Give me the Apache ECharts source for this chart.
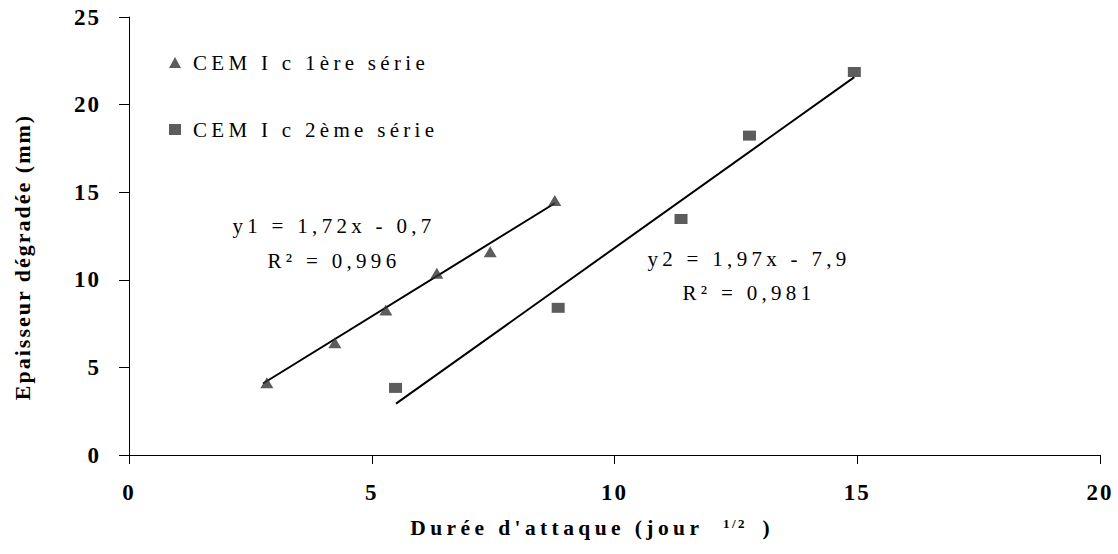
<!DOCTYPE html>
<html>
<head>
<meta charset="utf-8">
<script src="https://cdn.jsdelivr.net/npm/echarts@6/dist/echarts.min.js"></script>
<style>
html, body { margin: 0; padding: 0; background: #fff; }
#chart { width: 1118px; height: 554px; }
/* the original text is letter-spaced, svg text takes css letter-spacing */
#chart text[style*="23px"] { letter-spacing: 2px; }
#chart text[style*="22px"] { letter-spacing: 2px; }
#chart text[style*="21.5px"] { letter-spacing: 4.4px; }
#chart text[style*="21px"] { letter-spacing: 4.3px; }
#chart text[style*="13px"] { letter-spacing: 2.5px; }
</style>
</head>
<body>
<div id="chart"></div>
<script>
const serif = "Liberation Serif";

const serie1Name = "CEM I c 1ère série";
const serie1X = [2.84, 4.24, 5.29, 6.34, 7.44, 8.77];
const serie1Y = [4.13, 6.40, 8.27, 10.37, 11.60, 14.52];

const serie2Name = "CEM I c 2ème série";
const serie2X = [5.49, 8.84, 11.37, 12.78, 14.94];
const serie2Y = [3.83, 8.40, 13.47, 18.23, 21.86];

// trend line ends
const trend1X = [2.76, 8.77];
const trend1Y = [4.08, 14.37];
const trend2X = [5.50, 14.94];
const trend2Y = [2.93, 21.57];

const equation1 = "y1 = 1,72x - 0,7\nR² = 0,996";
const equation2 = "y2 = 1,97x - 7,9\nR² = 0,981";

const xTicks = [0, 5, 10, 15, 20];
const yTicks = [0, 5, 10, 15, 20, 25];

const pairs = (xs, ys) => xs.map((x, i) => [x, ys[i]]);

var chart = echarts.init(document.getElementById("chart"), null, { renderer: "svg" });

chart.setOption({
    animation: false,
    backgroundColor: "#ffffff",
    grid: {
        left: 129,
        right: 18,
        top: 17,
        bottom: 99
    },
    legend: {
        data: [serie1Name, serie2Name],
        orient: "vertical",
        left: 164,
        top: 47,
        itemWidth: 12,
        itemHeight: 11,
        itemGap: 46,
        textStyle: {
            fontFamily: serif,
            fontSize: 21,
            color: "#000",
            padding: [0, 0, 0, 7]
        }
    },
    xAxis: {
        type: "value",
        min: xTicks[0],
        max: xTicks[xTicks.length - 1],
        interval: 5,
        splitLine: { show: false },
        axisLine: { lineStyle: { color: "#000", width: 1 } },
        axisTick: { length: 9, lineStyle: { color: "#000" } },
        axisLabel: {
            margin: 26,
            fontFamily: serif,
            fontSize: 23,
            fontWeight: "bold",
            color: "#000"
        },
        name: "{a|Durée d'attaque (jour}{s|1/2}{c|)}",
        nameLocation: "middle",
        nameGap: 62,
        nameTextStyle: {
            color: "#000",
            rich: {
                a: { align: "left", fontFamily: serif, fontSize: 21.5, fontWeight: "bold", color: "#000" },
                s: { align: "left", fontFamily: serif, fontSize: 13, fontWeight: "bold", color: "#000", verticalAlign: "top", lineHeight: 4, padding: [0, 0, 0, 112] },
                c: { align: "left", fontFamily: serif, fontSize: 21.5, fontWeight: "bold", color: "#000", padding: [0, 49, 0, 23] }
            }
        }
    },
    yAxis: {
        type: "value",
        min: yTicks[0],
        max: yTicks[yTicks.length - 1],
        interval: 5,
        splitLine: { show: false },
        axisLine: { show: true, lineStyle: { color: "#000", width: 1 } },
        axisTick: { show: true, length: 10, lineStyle: { color: "#000" } },
        axisLabel: {
            margin: 28,
            fontFamily: serif,
            fontSize: 23,
            fontWeight: "bold",
            color: "#000"
        },
        name: "Epaisseur dégradée (mm)",
        nameLocation: "middle",
        nameRotate: 90,
        nameGap: 96,
        nameTextStyle: {
            fontFamily: serif,
            fontSize: 22,
            fontWeight: "bold",
            color: "#000",
            padding: [0, 42, 0, 0]
        }
    },
    graphic: [
        {
            type: "text",
            x: 334,
            y: 243.5,
            style: {
                text: equation1,
                fontFamily: serif,
                fontSize: 21,
                fill: "#000",
                align: "center",
                verticalAlign: "middle",
                lineHeight: 35
            }
        },
        {
            type: "text",
            x: 749,
            y: 276,
            style: {
                text: equation2,
                fontFamily: serif,
                fontSize: 21,
                fill: "#000",
                align: "center",
                verticalAlign: "middle",
                lineHeight: 34
            }
        }
    ],
    series: [
        {
            name: serie1Name,
            type: "scatter",
            symbol: "triangle",
            symbolSize: [13, 11],
            itemStyle: { color: "#333333" },
            data: pairs(serie1X, serie1Y),
            z: 3
        },
        {
            name: serie2Name,
            type: "scatter",
            symbol: "rect",
            symbolSize: [13, 10],
            itemStyle: { color: "#333333" },
            data: pairs(serie2X, serie2Y),
            z: 3
        },
        {
            name: "trend1",
            type: "line",
            showSymbol: false,
            silent: true,
            lineStyle: { color: "#000", width: 2 },
            data: pairs(trend1X, trend1Y),
            z: 2
        },
        {
            name: "trend2",
            type: "line",
            showSymbol: false,
            silent: true,
            lineStyle: { color: "#000", width: 2 },
            data: pairs(trend2X, trend2Y),
            z: 2
        }
    ]
});
</script>
</body>
</html>
